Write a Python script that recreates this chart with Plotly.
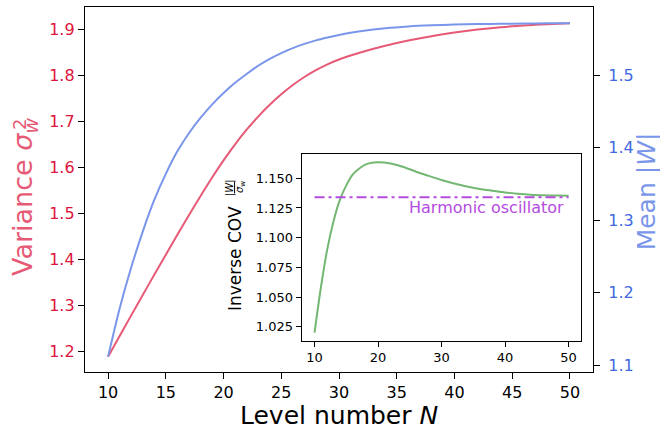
import plotly.graph_objects as go

# ---------------- data ----------------
N_main = [10, 11, 12, 13, 14, 15, 16, 17, 18, 19, 20, 21, 22, 23, 24, 25, 26, 27, 28, 29, 30, 31,
          32, 34, 36, 38, 40, 42, 44, 46, 48, 50]
variance = [1.1875, 1.2327, 1.2775, 1.3219, 1.3659, 1.4095, 1.4527, 1.4953, 1.5369, 1.5769, 1.6147,
            1.6497, 1.6815, 1.7101, 1.7357, 1.7585, 1.7787, 1.7962, 1.8112, 1.8238, 1.8343, 1.8430,
            1.8505, 1.864, 1.8755, 1.885, 1.893, 1.8995, 1.9045, 1.9085, 1.911, 1.913]
mean_abs_w = [1.112, 1.1785, 1.2348, 1.2843, 1.328, 1.364, 1.395, 1.420, 1.441, 1.4595, 1.4755,
              1.4895, 1.5017, 1.513, 1.5225, 1.5305, 1.5373, 1.5431, 1.548, 1.552, 1.5555, 1.5585,
              1.561, 1.5647, 1.5672, 1.5688, 1.5698, 1.5705, 1.5709, 1.5712, 1.5715, 1.5717]

N_inset = [10, 11, 12, 13, 14, 15, 16, 17, 18, 19, 20, 21, 22, 23, 24, 26, 28, 30, 32, 34, 36,
           38, 40, 42, 44, 46, 48, 50]
inv_cov = [1.020, 1.058, 1.090, 1.114, 1.132, 1.144, 1.153, 1.158, 1.1615, 1.163, 1.1636, 1.1633,
           1.1625, 1.1612, 1.1595, 1.1555, 1.152, 1.1485, 1.1456, 1.143, 1.141,
           1.1395, 1.138, 1.137, 1.1362, 1.1357, 1.1354, 1.1352]

harmonic_N = [10, 50]
harmonic_value = 1.134
harmonic_label = "Harmonic oscillator"

main_xticks = [10, 15, 20, 25, 30, 35, 40, 45, 50]
left_yticks = [1.2, 1.3, 1.4, 1.5, 1.6, 1.7, 1.8, 1.9]
right_yticks = [1.1, 1.2, 1.3, 1.4, 1.5]
inset_xticks = [10, 20, 30, 40, 50]
inset_yticks = [1.025, 1.050, 1.075, 1.100, 1.125, 1.150]

# ---------------- styling ----------------
W, H = 660, 430
L, R, T, B = 85, 592.7, 7, 372  # plot area in pixels
FONT = "DejaVu Sans"
RED_TICK = "#dc143c"
RED = "#e65a76"
BLUE_TICK = "#4169e1"
BLUE = "#7a96ea"
GREEN = "#73b773"
PURPLE = "#b44ce0"


def px(x):
    return (x - L) / (R - L)


def py(y):
    return (B - y) / (B - T)


fig = go.Figure()
fig.add_trace(go.Scatter(x=N_main, y=variance, mode="lines",
                         line=dict(color=RED, width=2, shape="spline", smoothing=0.8),
                         xaxis="x", yaxis="y", showlegend=False))
fig.add_trace(go.Scatter(x=N_main, y=mean_abs_w, mode="lines",
                         line=dict(color=BLUE, width=2, shape="spline", smoothing=0.8),
                         xaxis="x", yaxis="y2", showlegend=False))
fig.add_trace(go.Scatter(x=N_inset, y=inv_cov, mode="lines",
                         line=dict(color=GREEN, width=2, shape="spline", smoothing=0.8),
                         xaxis="x3", yaxis="y3", showlegend=False))
fig.add_trace(go.Scatter(x=harmonic_N, y=[harmonic_value] * len(harmonic_N), mode="lines",
                         line=dict(color=PURPLE, width=2, dash="10px,4px,3px,4px"),
                         xaxis="x3", yaxis="y3", showlegend=False))

axis_common = dict(showgrid=False, zeroline=False, showline=True, linecolor="black", linewidth=1.3,
                   ticks="outside", ticklen=6, tickwidth=1, tickcolor="black")

fig.update_layout(
    width=W, height=H,
    margin=dict(l=L, r=W - R, t=T, b=H - B, autoexpand=False),
    paper_bgcolor="white", plot_bgcolor="white",
    font=dict(family=FONT, color="black"),
    xaxis=dict(axis_common, domain=[0, 1], range=[8, 52], tickvals=main_xticks, mirror=True,
               tickfont=dict(size=16), anchor="y"),
    yaxis=dict(axis_common, range=[1.1543, 1.9485], tickvals=left_yticks, tickformat=".1f",
               tickfont=dict(size=16, color=RED_TICK), anchor="x"),
    yaxis2=dict(axis_common, range=[1.0908, 1.5940], tickvals=right_yticks, tickformat=".1f",
                tickfont=dict(size=16, color=BLUE_TICK), overlaying="y", side="right", anchor="x",
                ticklabelstandoff=5),
    xaxis3=dict(axis_common, domain=[px(301.7), px(581)], range=[8, 52], tickvals=inset_xticks, mirror=True,
                tickfont=dict(size=13), anchor="y3", ticklen=5),
    yaxis3=dict(axis_common, domain=[py(340.7), py(154.3)], range=[1.0132, 1.1702], tickvals=inset_yticks,
                tickformat=".3f", mirror=True, tickfont=dict(size=13), anchor="x3", ticklen=5),
)

ann = []
# main x title
ann.append(dict(x=px(338.9), y=py(415.5), xref="paper", yref="paper", showarrow=False,
                text="Level number <i>N</i>", font=dict(size=25, color="black"),
                xanchor="center", yanchor="middle", borderpad=0))
# left title
ann.append(dict(x=px(24), y=py(197), xref="paper", yref="paper", showarrow=False, textangle=-90,
                text="Variance <i>σ</i><sub><i>w</i></sub>", font=dict(size=27, color=RED),
                xanchor="center", yanchor="middle"))
ann.append(dict(x=px(19), y=py(124), xref="paper", yref="paper", showarrow=False, textangle=-90,
                text="2", font=dict(size=18, color=RED), xanchor="center", yanchor="middle"))
# right title
ann.append(dict(x=px(647), y=py(191), xref="paper", yref="paper", showarrow=False, textangle=-90,
                text="Mean |<i>W</i>|", font=dict(size=25, color=BLUE),
                xanchor="center", yanchor="middle"))
# inset y title
ann.append(dict(x=px(235), y=py(259), xref="paper", yref="paper", showarrow=False, textangle=-90,
                text="Inverse COV", font=dict(size=17, color="black"),
                xanchor="center", yanchor="middle"))
ann.append(dict(x=px(229.5), y=py(187.5), xref="paper", yref="paper", showarrow=False, textangle=-90,
                text="|<i>W</i>|", font=dict(size=10, color="black"),
                xanchor="center", yanchor="middle", borderpad=0))
ann.append(dict(x=px(240.5), y=py(187.5), xref="paper", yref="paper", showarrow=False, textangle=-90,
                text="<i>σ</i><sub>w</sub>", font=dict(size=10, color="black"),
                xanchor="center", yanchor="middle", borderpad=0))
# harmonic label
ann.append(dict(x=49.6, y=1.1256, xref="x3", yref="y3", showarrow=False, text=harmonic_label,
                font=dict(size=16, color=PURPLE), xanchor="right", yanchor="middle"))
fig.update_layout(annotations=ann)

fig.add_shape(type="line", xref="paper", yref="paper", x0=px(234.5), x1=px(234.5), y0=py(181.5), y1=py(193.5),
              line=dict(color="black", width=1))

fig.write_html("out.html", config={"displayModeBar": False},
               post_script="document.body.style.margin='0';document.body.style.overflow='hidden';")
